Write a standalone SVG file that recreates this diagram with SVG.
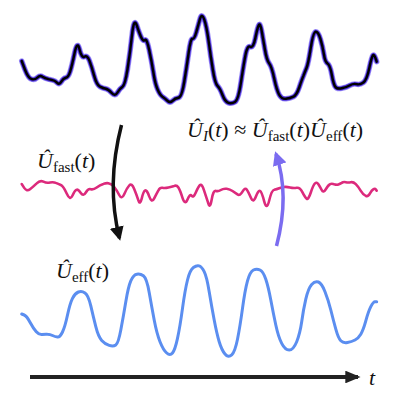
<svg xmlns="http://www.w3.org/2000/svg" width="400" height="400" viewBox="0 0 400 400">
<style>
.c{fill:none;stroke-linejoin:round;stroke-linecap:round}
.lbl{font-family:"Liberation Serif","Times New Roman",serif;font-size:22px;fill:#111}
.it{font-style:italic}
.sub{font-size:15px}
</style>
<defs>
<marker id="ahK" viewBox="0 0 10 10" refX="8" refY="5" markerWidth="4" markerHeight="4" orient="auto"><path d="M0,0 L10,5 L0,10 Z" fill="#111"/></marker>
<marker id="ahP" viewBox="0 0 10 10" refX="8" refY="5" markerWidth="4" markerHeight="4" orient="auto"><path d="M0,0 L10,5 L0,10 Z" fill="#7b6cf0"/></marker>
<marker id="ahT" viewBox="0 0 12 10" refX="10" refY="5" markerWidth="3.8" markerHeight="3.2" orient="auto"><path d="M0,0 L12,5 L0,10 Z" fill="#222"/></marker>
<path id="topCurve" d="M21.7,61 L25,69.7 Q28.3,78.3 31.7,79.2 Q35,80 37.5,77.5 Q40,75 42.5,76.7 Q45,78.3 48.4,79.2 Q51.7,80 53.4,80.4 Q55,80.7 57.2,82.9 Q59.3,85 61.3,81.7 Q63.3,78.3 65.8,77.8 Q68.3,77.3 70,72 Q71.7,66.7 74.5,53.4 Q77.3,40 79.5,49.2 Q81.7,58.3 84.5,56.7 Q87.3,55 89.5,60.9 Q91.7,66.7 94.2,75.9 Q96.7,85 100,86.7 Q103.3,88.3 105.8,88.8 Q108.3,89.3 111.7,93 Q115,96.7 117.5,92.5 Q120,88.3 122.5,86.7 Q125,85 127.5,69.2 Q130,53.3 132,35.2 Q134,17 136.7,25.2 Q139.3,33.3 141.3,37.5 Q143.3,41.7 145,40 Q146.7,38.3 149.2,50 Q151.7,61.7 153.4,72.5 Q155,83.3 157.5,89.2 Q160,95 162.5,96.7 Q165,98.3 167.5,100.8 Q170,103.3 172.5,100.8 Q175,98.3 178.4,97.8 Q181.7,97.3 184.2,82 Q186.7,66.7 188.7,52.5 Q190.7,38.3 192.5,38.8 Q194.3,39.3 196.3,32.2 Q198.3,25 200,18.8 Q201.8,12.5 204.3,19.6 Q206.7,26.7 208.7,41.7 Q210.7,56.7 212.9,70 Q215,83.3 217.5,85.8 Q220,88.3 222.5,95 Q225,101.7 228.4,102.9 Q231.7,104 235,102 Q238.3,100 240.8,83.4 Q243.3,66.7 245.3,55.9 Q247.3,45 250.3,46.7 Q253.3,48.3 255.3,38.3 Q257.3,28.3 258.7,25.2 Q260,22 261.7,31 Q263.3,40 265,50 Q266.7,60 269.2,63.4 Q271.7,66.7 274.2,78.4 Q276.7,90 279.2,94.7 Q281.7,99.3 285.9,98.8 Q290,98.3 293.4,96.7 Q296.7,95 299.2,87.5 Q301.7,80 303.4,75.9 Q305,71.7 306.7,67.5 Q308.3,63.3 310.8,47.5 Q313.3,31.7 315.8,31.7 Q318.3,31.7 320.5,39.2 Q322.7,46.7 323.9,54.2 Q325,61.7 327.5,63.4 Q330,65 331.7,74.2 Q333.3,83.3 335,86.3 Q336.7,89.3 341.7,88.3 Q346.7,87.3 350,85.3 Q353.3,83.3 356.7,84.2 Q360,85 363.4,82.5 Q366.7,80 369.2,68.4 Q371.7,56.7 372.9,55.4 Q374,54 375.4,57.9 L376.7,61.7"/>
</defs>
<rect width="400" height="400" fill="#fff"/>
<g id="top-signal">
<use href="#topCurve" class="c" stroke="#8a78f5" stroke-width="5.5" stroke-opacity="0.8"/>
<use href="#topCurve" class="c" stroke="#4b2fd8" stroke-width="4"/>
<use href="#topCurve" class="c" stroke="#000" stroke-width="2.4"/>
</g>
<g id="fast-signal">
<path class="c" stroke="#dc2a7c" stroke-width="2.6" d="M21.7,184 L24.2,187.9 Q26.7,191.7 30,189.2 Q33.3,186.7 36.7,183.4 Q40,180 43.4,181.7 Q46.7,183.3 50,182.5 Q53.3,181.7 55.8,182.9 Q58.3,184 60.8,185 Q63.3,186 66.7,193.5 Q70,201 72.5,195.5 Q75,190 76.7,189.7 Q78.3,189.3 80.8,193 Q83.3,196.7 85.8,192.5 Q88.3,188.3 90.8,189.2 Q93.3,190 96.7,187.5 Q100,185 103.4,183.9 Q106.7,182.7 109.2,183.4 Q111.7,184 114.2,187 Q116.7,190 119.2,195 Q121.7,200 124.2,194.2 Q126.7,188.3 129.2,185.5 Q131.7,182.7 134.2,188.9 Q136.7,195 138.4,200.3 Q140,205.5 141.7,198.6 Q143.3,191.7 145,190.5 Q146.7,189.3 149.2,196.4 Q151.7,203.5 154.2,198.4 Q156.7,193.3 158.4,190.3 Q160,187.3 162.5,187.8 Q165,188.3 168.4,187.5 Q171.7,186.7 174.2,185.9 Q176.7,185 178.4,187.5 Q180,190 182.5,197.8 Q185,205.5 187.5,199.4 Q190,193.3 191.7,195.8 Q193.3,198.3 195.8,192.5 Q198.3,186.7 200,185 Q201.7,183.3 204.2,190.8 Q206.7,198.3 208.4,203.7 Q210,209 211.7,199.5 Q213.3,190 215.8,190.9 Q218.3,191.7 220.8,190 Q223.3,188.3 226.7,188.8 Q230,189.3 232.5,191 Q235,192.7 237.5,194.4 Q240,196 242.5,191.7 Q245,187.3 246.7,189.5 Q248.3,191.7 250.8,197.6 Q253.3,203.5 255.8,196.8 Q258.3,190 260,190.9 Q261.7,191.7 264.2,201.4 Q266.7,211 269.2,200.5 Q271.7,190 274.2,189.7 Q276.7,189.3 279.2,188.3 Q281.7,187.3 284.2,187 Q286.7,186.7 290,187.5 Q293.3,188.3 296.7,187.8 Q300,187.3 302.5,192.3 Q305,197.3 306.7,198.7 Q308.3,200 310.8,192.5 Q313.3,185 315,183.4 Q316.7,181.7 318.4,184.2 Q320,186.7 321.7,190 Q323.3,193.3 325.8,189.2 Q328.3,185 330,184.2 Q331.7,183.3 334.2,184.2 Q336.7,185 338.4,184.5 Q340,184 341.7,182.9 Q343.3,181.7 345.8,182.2 Q348.3,182.7 350.8,182.2 Q353.3,181.7 355.8,184.2 Q358.3,186.7 360.8,190.9 Q363.3,195 365.8,195.9 Q368.3,196.7 370,193.4 Q371.7,190 373.4,189.2 Q375,188.3 375.9,189.5 L376.7,190.7"/>
</g>
<g id="eff-signal">
<path class="c" stroke="#5b8ef0" stroke-width="3" d="M21.7,314 L24.2,315 Q26.7,316 30,322.2 Q33.3,328.3 36.3,331.7 Q39.3,335 42.2,334.5 Q45,334 47.5,334.2 Q50,334.3 52.5,335.5 Q55,336.7 57.5,337 Q60,337.3 62.5,332 Q65,326.7 67.5,315 Q70,303.3 72.5,298.3 Q75,293.3 78.4,292 Q81.7,290.7 85,292.9 Q88.3,295 90.8,305.9 Q93.3,316.7 95.8,326.7 Q98.3,336.7 101.7,340.4 Q105,344 109.2,345.4 Q113.3,346.7 115.8,345 Q118.3,343.3 120.8,330 Q123.3,316.7 125.8,301.7 Q128.3,286.7 130.8,280.9 Q133.3,275 136.7,274.2 Q140,273.3 143.4,275.8 Q146.7,278.3 149.2,292.5 Q151.7,306.7 154.2,320 Q156.7,333.3 160,341.7 Q163.3,350 166.7,353 Q170,356 172.5,353 Q175,350 177.5,338.4 Q180,326.7 182.5,308.4 Q185,290 187.5,280 Q190,270 193.4,267.5 Q196.7,265 199.2,265.9 Q201.7,266.7 204.2,271.7 Q206.7,276.7 209.2,291.7 Q211.7,306.7 214.2,320 Q216.7,333.3 219.2,341.7 Q221.7,350 225,354 Q228.3,358 231.7,354.9 Q235,351.7 237.5,339.2 Q240,326.7 242.5,308.4 Q245,290 247.5,280.9 Q250,271.7 253.4,270 Q256.7,268.3 260,270 Q263.3,271.7 265.8,279.2 Q268.3,286.7 270.8,300 Q273.3,313.3 275.8,325 Q278.3,336.7 281.7,343.4 Q285,350 289.2,350 Q293.3,350 296.7,341.7 Q300,333.3 301.7,321.7 Q303.3,310 305.8,299.2 Q308.3,288.3 311.7,284.5 Q315,280.7 318.4,282 Q321.7,283.3 325,291.7 Q328.3,300 330.8,310 Q333.3,320 335.8,329.2 Q338.3,338.3 340.8,340.8 Q343.3,343.3 347.5,342.5 Q351.7,341.7 355,340 Q358.3,338.3 360.8,334.2 Q363.3,330 365.8,320.9 Q368.3,311.7 370.8,306.7 Q373.3,301.7 375,301.7 L376.7,301.7"/>
</g>
<g id="labels" font-family="Liberation Serif, Times New Roman, serif">
<text class="lbl" x="187" y="137"><tspan class="it">Û</tspan><tspan class="it sub" dy="4">I</tspan><tspan dy="-4">(</tspan><tspan class="it">t</tspan>) ≈ <tspan class="it">Û</tspan><tspan class="sub" dy="4">fast</tspan><tspan dy="-4">(</tspan><tspan class="it">t</tspan>)<tspan class="it">Û</tspan><tspan class="sub" dy="4">eff</tspan><tspan dy="-4">(</tspan><tspan class="it">t</tspan>)</text>
<text class="lbl" x="37" y="168"><tspan class="it">Û</tspan><tspan class="sub" dy="4">fast</tspan><tspan dy="-4">(</tspan><tspan class="it">t</tspan>)</text>
<text class="lbl" x="56" y="278"><tspan class="it">Û</tspan><tspan class="sub" dy="4">eff</tspan><tspan dy="-4">(</tspan><tspan class="it">t</tspan>)</text>
<text class="lbl it" x="369" y="385">t</text>
</g>
<g id="connectors">
<path d="M121.5,125 Q106,185 119.5,238" fill="none" stroke="#111" stroke-width="3.5" marker-end="url(#ahK)"/>
<path d="M276.5,246 Q290,195 276,154" fill="none" stroke="#7b6cf0" stroke-width="3.5" marker-end="url(#ahP)"/>
<line x1="30" y1="377" x2="358" y2="377" stroke="#222" stroke-width="4" marker-end="url(#ahT)"/>
</g>
</svg>
